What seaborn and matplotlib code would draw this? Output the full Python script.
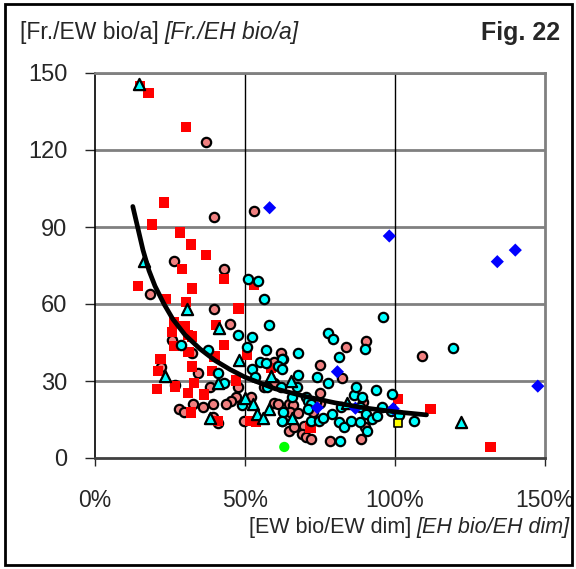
import numpy as np
import seaborn as sns
import matplotlib
matplotlib.use("Agg")
import matplotlib.pyplot as plt
from matplotlib.patches import Rectangle
from matplotlib.ticker import FuncFormatter

# Data (x in %, y in Fr./EW bio/a)
red_x = [15, 17.8, 30.4, 23.1, 19, 28.3, 31.9, 37, 29.1, 43.1, 14.3, 32.4, 23.7, 30.3, 47.8,
         26.3, 29.8, 40.4, 25.7, 32.3, 31, 43.1, 26.3, 31.2, 39.8, 21.8, 50.6, 32.4, 21.1, 39.1,
         47.1, 33, 20.6, 26.7, 31.1, 36.4, 31.9, 41.1, 51.6, 53.7, 58.7, 71.8, 101.1, 53.1,
         111.8, 131.8]
red_y = [145, 142.3, 129, 99.5, 91, 87.8, 83.2, 79.2, 73.7, 69.8, 66.9, 66, 61.9, 60.8, 58.2,
         53, 51.4, 51.9, 49, 47.3, 47.9, 44, 43.6, 41.2, 39.5, 38.7, 40.1, 35.7, 34, 33.9,
         30.2, 29.3, 27, 27.8, 25.4, 24.7, 17.7, 14.5, 14.4, 14.1, 35.1, 11.9, 23, 67.5,
         19.2, 4.4]

salmon_x = [37.1, 39.8, 26.4, 43.1, 18.4, 39.8, 45, 25.7, 32.4, 34.4, 26.8, 38.4, 47.7, 47,
            45.2, 43.7, 27.9, 29.8, 32.6, 36.1, 39.2, 39.4, 41.1, 49.8, 21.9, 53, 61.9, 62.6,
            59.8, 75, 82.4, 83.8, 90.4, 59.7, 56.3, 75, 51.9, 59.8, 61.1, 64.6, 65.9, 72.6,
            65, 67.8, 69.7, 64.6, 68.9, 70.3, 71.9, 78.3, 88.6, 74.9, 89.3, 89.9, 62.4, 66.4,
            73.8, 109]
salmon_y = [123, 94, 76.7, 73.6, 63.8, 58.2, 52.1, 45.8, 41, 33.2, 28.5, 27.8, 27.8, 23.9,
            22.3, 21, 19.2, 17.8, 20.9, 20, 20.9, 16.1, 13.8, 14.5, 35.3, 96.2, 41.1, 38.7,
            37.4, 36.3, 31, 43.4, 45.7, 29.3, 27.8, 25.4, 23.9, 21.3, 20.9, 21, 20.6, 17.8,
            17.8, 17.7, 12.3, 10.7, 9.2, 8.3, 7.4, 6.7, 7.5, 21.5, 21.9, 12.2, 14.4, 11.9,
            21.9, 39.7]

cyan_x = [51, 54.4, 56.4, 57.9, 52.4, 77.8, 79.2, 95.9, 89.9, 81.2, 50.8, 57.1, 62.3, 67.8,
          52.4, 55.1, 57.1, 60.9, 62.4, 53.2, 67.7, 73.9, 77.8, 57.2, 61.9, 67.2, 65.8, 70.3,
          71.1, 49, 71.9, 71.1, 62.6, 62.4, 72, 74.6, 75.9, 81.7, 79.1, 81.2, 83.1, 85.2,
          81.9, 88.3, 86.4, 87.1, 89.1, 90.3, 88.3, 90.7, 92.3, 93.9, 93.8, 99.1, 95.8, 98.7,
          101.2, 47.8, 28.6, 37.8, 41.1, 43.1, 106.3, 119.3]
cyan_y = [69.8, 69.1, 61.9, 51.9, 47.1, 48.8, 46.4, 55, 42.6, 39.5, 43.4, 42.1, 38.7, 41,
          34.8, 37.3, 37.1, 35.8, 34.8, 31.7, 32.3, 31.7, 29.3, 27.5, 27.8, 27.8, 23.9, 23.9,
          22.3, 20.6, 20.9, 19, 17.8, 14.4, 14.5, 14.5, 15.4, 6.7, 17, 13.9, 12.2, 14.5,
          20, 20, 24.4, 27.8, 23.9, 17, 13.9, 10.7, 15.2, 16.4, 26.4, 24.8, 20, 18.3,
          16.9, 48, 44.1, 42, 33.2, 29.3, 14.5, 42.9]

tri_x = [14.8, 16.4, 30.8, 41.4, 48, 23.3, 40.9, 50, 38.3, 58.8, 65.3, 52.8, 58.1, 53.9, 56,
         65.6, 84.1, 122.1]
tri_y = [145.7, 76.6, 58, 50.5, 38.2, 32.1, 29.1, 23.4, 15.4, 31.9, 30.1, 21, 19.1, 17,
         15.5, 15.5, 21.3, 14]

blue_x = [58.2, 98.1, 134.1, 140.1, 147.6, 80.8, 74.1, 86.8, 99.4]
blue_y = [97.5, 86.5, 76.5, 81, 28, 33.6, 19.6, 19.4, 19.2]

yellow_x = [101.1]
yellow_y = [13.8]
green_x = [63.1]
green_y = [4.3]

# trend curve
trend_x = [12.6, 14, 16, 18, 20, 23, 26, 30, 35, 40, 45, 50, 60, 70, 80, 90, 100, 110.5]
trend_y = [98, 91, 81, 73, 67, 60, 54, 48, 42.5, 38, 34.5, 31.5, 27, 24, 21.5, 19.5, 18, 16.8]

sns.set_style("white")
plt.rcParams['font.family'] = ['Liberation Sans Narrow', 'Liberation Sans', 'DejaVu Sans']

fig = plt.figure(figsize=(5.76, 5.69), dpi=100)
ax = fig.add_axes([95 / 576, 111 / 569, 450 / 576, 385 / 569])

# grid lines
for v in [30, 60, 90, 120, 150]:
    ax.axhline(v, color="#808080", lw=2, zorder=1)
for v in [50, 100]:
    ax.axvline(v, color="black", lw=1, zorder=1)

sns.scatterplot(x=salmon_x, y=salmon_y, ax=ax, marker="o", s=45, color="#F08080",
                edgecolor="black", linewidth=1.6, zorder=3)
sns.scatterplot(x=red_x, y=red_y, ax=ax, marker="s", s=55, color="#FF0000",
                edgecolor="none", linewidth=0, zorder=4)
sns.scatterplot(x=cyan_x, y=cyan_y, ax=ax, marker="o", s=45, color="#00FFFF",
                edgecolor="black", linewidth=1.6, zorder=5)
sns.scatterplot(x=tri_x, y=tri_y, ax=ax, marker="^", s=65, color="#00FFFF",
                edgecolor="black", linewidth=1.6, zorder=6)
sns.scatterplot(x=blue_x, y=blue_y, ax=ax, marker="D", s=45, color="#0000FF",
                edgecolor="none", linewidth=0, zorder=6)
sns.scatterplot(x=yellow_x, y=yellow_y, ax=ax, marker="s", s=40, color="#FFFF00",
                edgecolor="black", linewidth=1.2, zorder=6)
sns.scatterplot(x=green_x, y=green_y, ax=ax, marker="o", s=55, color="#00FF00",
                edgecolor="none", linewidth=0, zorder=6)
sns.lineplot(x=trend_x, y=trend_y, ax=ax, color="black", lw=3.4, zorder=7, sort=False)

ax.set_xlim(0, 150)
ax.set_ylim(0, 150)
ax.set_xticks([0, 50, 100, 150])
ax.set_yticks([0, 30, 60, 90, 120, 150])
ax.xaxis.set_major_formatter(FuncFormatter(lambda v, p: f"{v:.0f}%"))
ax.tick_params(axis="x", direction="out", length=6, width=1, pad=16, labelsize=16.5, bottom=True)
ax.tick_params(axis="y", direction="out", length=7, width=1, pad=13, labelsize=17, left=True)
ax.set_xlabel("")
ax.set_ylabel("")

ax.spines["left"].set_color("black")
ax.spines["left"].set_linewidth(1.2)
ax.spines["bottom"].set_color("#404040")
ax.spines["bottom"].set_linewidth(2)
ax.spines["top"].set_color("#808080")
ax.spines["top"].set_linewidth(2)
ax.spines["right"].set_color("#808080")
ax.spines["right"].set_linewidth(2)

# titles
fig.canvas.draw()
rend = fig.canvas.get_renderer()
t1 = fig.text(20 / 576, 1 - 33 / 569, "[Fr./EW bio/a]", fontsize=16.5, va="center", ha="left")
ext = t1.get_window_extent(rend)
fig.text(ext.x1 / 576 + 6 / 576, 1 - 33 / 569, "[Fr./EH bio/a]", fontsize=16.5,
         style="italic", va="center", ha="left")
fig.text(560 / 576, 1 - 33 / 569, "Fig. 22", fontsize=18, weight="bold", va="center", ha="right")

t2 = fig.text(570 / 576, 1 - 528 / 569, "[EH bio/EH dim]", fontsize=15.5, style="italic",
              va="center", ha="right")
ext2 = t2.get_window_extent(rend)
fig.text(ext2.x0 / 576 - 6 / 576, 1 - 528 / 569, "[EW bio/EW dim]", fontsize=15.5,
         va="center", ha="right")

# figure border
fig.patches.append(Rectangle((5 / 576, 4 / 569), 567 / 576, 561 / 569, transform=fig.transFigure,
                             fill=False, edgecolor="black", lw=2))

fig.savefig("out.png", dpi=100)
